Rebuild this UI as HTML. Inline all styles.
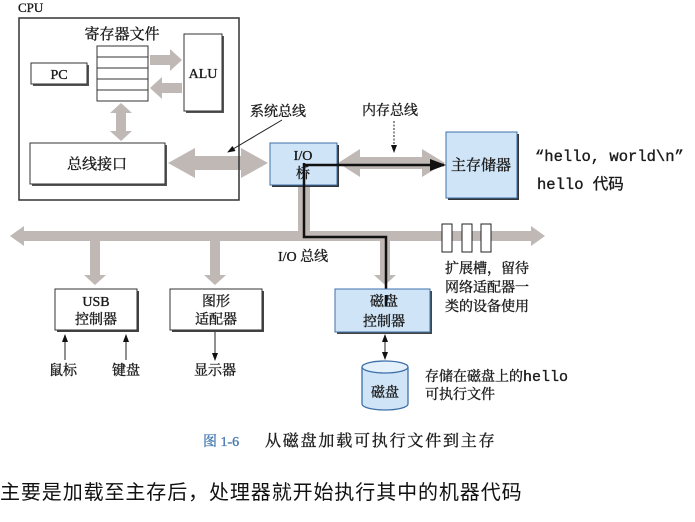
<!DOCTYPE html>
<html><head><meta charset="utf-8"><style>
body{margin:0;background:#fff;width:695px;height:522px;overflow:hidden}
svg{position:absolute;left:0;top:0}
text{font-family:"Liberation Serif","Noto Serif CJK SC",serif;fill:#1a1a1a;stroke:#1a1a1a;stroke-width:0.35}
.m{font-family:"Liberation Mono","Noto Sans CJK SC",monospace}
.s{font-family:"Liberation Sans","Noto Sans CJK SC",sans-serif;stroke:none}
</style></head><body>
<svg width="695" height="522" viewBox="0 0 695 522">
<defs>
<marker id="ah" markerWidth="8" markerHeight="8" refX="7" refY="4" orient="auto" markerUnits="userSpaceOnUse"><path d="M0,1 L8,4 L0,7z" fill="#111"/></marker>
<marker id="big" markerWidth="16" markerHeight="12" refX="14" refY="6" orient="auto" markerUnits="userSpaceOnUse"><path d="M0,0 L16,6 L0,12z" fill="#111"/></marker>
</defs>
<g fill="#bfb8b5">
<path d="M150,55 h20 v-6 l12,11 l-12,11 v-6 h-20z"/>
<path d="M182,83 h-20 v-6 l-12,11 l12,11 v-6 h20z"/>
<path d="M116,113 h-6 l11,-10 l11,10 h-6 v18 h6 l-11,10 l-11,-10 h6z"/>
<path d="M168,163 l27,-15 v8 h46 v-8 l27,15 l-27,15 v-8 h-46 v8z"/>
<path d="M338,163 l22,-14 v8 h62 v-8 l23,14 l-23,14 v-8 h-62 v8z"/>
<rect x="298" y="187" width="12" height="45"/>
<path d="M10,236 l14,-10 v5 h507 v-5 l14,10 l-14,10 v-5 h-507 v5z"/>
<path d="M90,241 h10 v34 h6 l-11,10 l-11,-10 h6z"/>
<path d="M210,241 h10 v34 h6 l-11,10 l-11,-10 h6z"/>
<path d="M380,241 h10 v34 h6 l-11,10 l-11,-10 h6z"/>
</g>
<text x="18" y="12" font-size="13">CPU</text>
<rect x="19" y="18" width="220" height="182" fill="none" stroke="#333" stroke-width="1.5"/>
<text x="122" y="39" font-size="15" text-anchor="middle">寄存器文件</text>
<rect x="97" y="46" width="51" height="55" fill="#fff" stroke="#333"/>
<g stroke="#333"><line x1="97" y1="57" x2="148" y2="57"/><line x1="97" y1="68" x2="148" y2="68"/><line x1="97" y1="79" x2="148" y2="79"/><line x1="97" y1="90" x2="148" y2="90"/></g>
<rect x="33" y="65" width="56" height="21" fill="#555"/><rect x="31" y="63" width="56" height="21" fill="#fff" stroke="#333"/>
<text x="59" y="79" font-size="14" text-anchor="middle">PC</text>
<rect x="186" y="36" width="38" height="77" fill="#555"/><rect x="184" y="34" width="38" height="77" fill="#fff" stroke="#333"/>
<text x="203" y="78" font-size="14" text-anchor="middle">ALU</text>
<rect x="32" y="145" width="135" height="41" fill="#555"/><rect x="30" y="143" width="135" height="41" fill="#fff" stroke="#333"/>
<text x="97" y="169" font-size="15" text-anchor="middle">总线接口</text>
<text x="250" y="116" font-size="14">系统总线</text>
<line x1="282" y1="120" x2="228" y2="152" stroke="#222" marker-end="url(#ah)"/>
<text x="362" y="115" font-size="14">内存总线</text>
<line x1="394" y1="121" x2="394" y2="152" stroke="#222" stroke-dasharray="2,1.5" marker-end="url(#ah)"/>
<rect x="272" y="145" width="67" height="42" fill="#333"/><rect x="270" y="143" width="67" height="42" fill="#cfe4f7" stroke="#3d6fa8"/>
<text x="303" y="160" font-size="14" text-anchor="middle">I/O</text>
<text x="303" y="178" font-size="14" text-anchor="middle">桥</text>
<rect x="448" y="134" width="71" height="66" fill="#333"/><rect x="446" y="132" width="71" height="66" fill="#cfe4f7" stroke="#3d6fa8"/>
<text x="481" y="170" font-size="15" text-anchor="middle">主存储器</text>
<text x="535" y="161" font-size="15.5" class="m">“hello, world\n”</text>
<text x="537" y="189" font-size="15.5" class="m">hello 代码</text>
<path d="M305,165 H444" stroke="#111" stroke-width="2.5" fill="none" marker-end="url(#big)"/>
<path d="M304,163 V237 H386 V295" stroke="#111" stroke-width="2.5" fill="none"/>
<g fill="#fff" stroke="#222"><rect x="442" y="224" width="10" height="28"/><rect x="462" y="224" width="10" height="28"/><rect x="481" y="224" width="10" height="28"/></g>
<text x="445" y="273" font-size="14">扩展槽，留待</text>
<text x="445" y="292" font-size="14">网络适配器一</text>
<text x="445" y="311" font-size="14">类的设备使用</text>
<text x="278" y="261" font-size="14">I/O 总线</text>
<rect x="57" y="291" width="82" height="41" fill="#444"/><rect x="55" y="289" width="82" height="41" fill="#fff" stroke="#333"/>
<text x="96" y="306" font-size="14" text-anchor="middle">USB</text><text x="96" y="324" font-size="14" text-anchor="middle">控制器</text>
<rect x="172" y="291" width="92" height="41" fill="#444"/><rect x="170" y="289" width="92" height="41" fill="#fff" stroke="#333"/>
<text x="216" y="306" font-size="14" text-anchor="middle">图形</text><text x="216" y="324" font-size="14" text-anchor="middle">适配器</text>
<rect x="337" y="291" width="95" height="43" fill="#444"/><rect x="335" y="289" width="95" height="43" fill="#cfe4f7" stroke="#3d6fa8"/>
<text x="384" y="306" font-size="14" text-anchor="middle">磁盘</text><text x="384" y="326" font-size="14" text-anchor="middle">控制器</text>
<line x1="386" y1="295" x2="386" y2="306" stroke="#111" stroke-width="2.5"/>
<g stroke="#222">
<line x1="65" y1="360" x2="65" y2="335" marker-end="url(#ah)"/>
<line x1="126" y1="360" x2="126" y2="335" marker-end="url(#ah)"/>
<line x1="215" y1="332" x2="215" y2="360" marker-end="url(#ah)"/>
<line x1="385" y1="345" x2="385" y2="335" marker-end="url(#ah)"/>
<line x1="385" y1="345" x2="385" y2="359" marker-end="url(#ah)"/>
</g>
<text x="63" y="375" font-size="14" text-anchor="middle">鼠标</text>
<text x="126" y="375" font-size="14" text-anchor="middle">键盘</text>
<text x="215" y="375" font-size="14" text-anchor="middle">显示器</text>
<path d="M362,367 V404 A23,6 0 0 0 408,404 V367" fill="#cfe4f7" stroke="#3d6fa8" stroke-width="1.3"/>
<ellipse cx="385" cy="367" rx="23" ry="6" fill="#e4f0fb" stroke="#3d6fa8" stroke-width="1.3"/>
<text x="385" y="397" font-size="14" text-anchor="middle">磁盘</text>
<text x="425" y="381" font-size="14">存储在磁盘上的<tspan class="m" font-size="15">hello</tspan></text>
<text x="425" y="399" font-size="14">可执行文件</text>
<text x="203" y="446" font-size="14" style="fill:#4a7bb0;stroke:#4a7bb0">图 1-6</text>
<text x="265" y="446" font-size="16" letter-spacing="1.8">从磁盘加载可执行文件到主存</text>
<text x="0" y="499" font-size="20" class="s" letter-spacing="0.9" style="fill:#111">主要是加载至主存后，处理器就开始执行其中的机器代码</text>
</svg>
</body></html>
